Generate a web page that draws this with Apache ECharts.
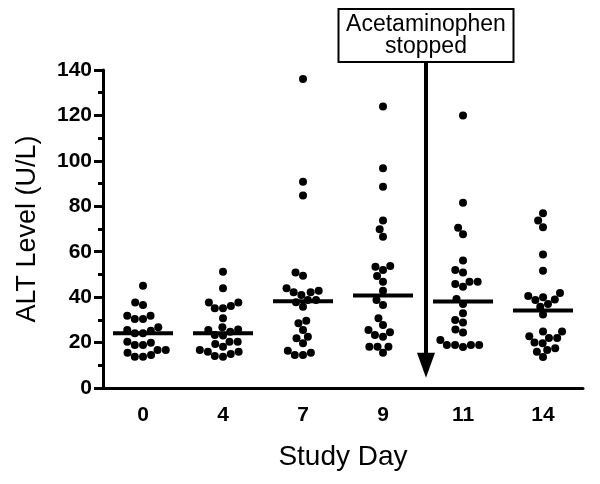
<!DOCTYPE html>
<html><head><meta charset="utf-8">
<script src="https://cdn.jsdelivr.net/npm/echarts@6/dist/echarts.min.js"></script>
<style>html,body{margin:0;background:#fff}#c{width:600px;height:484px}</style>
</head><body><div id="c"></div>
<script>
// ---- data ----
const studyDays = ['0', '4', '7', '9', '11', '14'];
const altDay0  = [45, 37.6, 36.5, 31.8, 31.8, 30.4, 30.4, 26.7, 25.5, 25.2, 24.1, 24.1, 20.4, 19.9, 18.9, 18.9, 16.7, 16.7, 15.5, 14.5, 13.8, 13.8];
const altDay4  = [51.2, 43.9, 37.6, 37.6, 36.1, 35.1, 35.1, 30.7, 26.7, 25.8, 25.5, 24.8, 23.3, 23.1, 20.4, 20.4, 19.4, 18.2, 16.7, 16, 16, 15, 14.1, 13.8];
const altDay7  = [136, 90.8, 84.7, 50.9, 49.4, 43.9, 42.8, 42.1, 42.1, 40.9, 38.7, 38.7, 37.7, 35.8, 29.6, 28.5, 25.5, 22.6, 21.9, 19.7, 16.4, 15.5, 14.5, 14.5];
const altDay9  = [123.9, 96.7, 88.6, 73.7, 69.9, 66.6, 53.7, 53.4, 52.0, 49.3, 46.8, 42.8, 38.7, 36.5, 30.7, 27.7, 25.5, 24.5, 23.3, 22.6, 18.2, 18.2, 18.2, 15.5];
const altDay11 = [120, 81.6, 70.6, 67.7, 56.1, 52.0, 50.8, 46.8, 46.8, 45.8, 44.6, 39.2, 37.0, 32.9, 29.9, 28.8, 25.8, 24.4, 21.1, 18.9, 18.9, 18.9, 18.9, 18.0];
const altDay14 = [76.9, 73.7, 70.8, 58.8, 51.6, 41.8, 40.5, 39.9, 39.0, 38.7, 37.0, 35.8, 32.4, 24.9, 24.9, 22.8, 22.0, 22.0, 20.0, 19.7, 17.5, 16.7, 16.0, 13.6];
const yMin = 0, yMax = 140, yInterval = 20;
const annotationLines = ['Acetaminophen', 'stopped'];
const arrowBetween = ['9', '11'];   // arrow drawn between these days
const arrowTipValue = 4.5;

// ---- chart ----
const groups = [altDay0, altDay4, altDay7, altDay9, altDay11, altDay14];
const FONT = '"Liberation Sans", Arial, Helvetica, sans-serif';
function median(a) {
  const s = a.slice().sort((x, y) => x - y), n = s.length;
  return n % 2 ? s[(n - 1) / 2] : (s[n / 2 - 1] + s[n / 2]) / 2;
}
const chart = echarts.init(document.getElementById('c'), null, { renderer: 'canvas' });

function dotData(offsets) {
  const out = [];
  groups.forEach((g, i) => g.forEach((v, k) => {
    out.push({ value: [i, v], symbolOffset: [offsets ? offsets[i][k] : 0, 0] });
  }));
  return out;
}

const option = {
  animation: false,
  backgroundColor: '#fff',
  grid: { left: 103, right: 17, top: 70, bottom: 96, containLabel: false },
  xAxis: {
    type: 'category', data: studyDays, boundaryGap: true,
    name: 'Study Day', nameLocation: 'middle', nameGap: 55,
    nameTextStyle: { fontFamily: FONT, fontSize: 28, color: '#000' },
    axisLine: { lineStyle: { color: '#000', width: 3 } },
    axisTick: { alignWithLabel: true, length: 9, lineStyle: { color: '#000', width: 3 } },
    axisLabel: { fontFamily: FONT, fontSize: 21, fontWeight: 'bold', color: '#000', margin: 17 },
    splitLine: { show: false }
  },
  yAxis: {
    type: 'value', min: yMin, max: yMax, interval: yInterval,
    name: 'ALT Level (U/L)', nameLocation: 'middle', nameGap: 62,
    nameTextStyle: { fontFamily: FONT, fontSize: 27, color: '#000' },
    axisLine: { show: true, lineStyle: { color: '#000', width: 3 } },
    axisTick: { show: true, length: 9, lineStyle: { color: '#000', width: 3 } },
    minorTick: { show: true, splitNumber: 2, length: 5, lineStyle: { color: '#000', width: 3 } },
    axisLabel: { fontFamily: FONT, fontSize: 21, fontWeight: 'bold', color: '#000', margin: 11 },
    splitLine: { show: false }, minorSplitLine: { show: false }
  },
  series: [
    { type: 'scatter', name: 'ALT', symbol: 'circle', symbolSize: 8,
      itemStyle: { color: '#000', opacity: 1 }, data: dotData(null), z: 3 },
    { type: 'scatter', name: 'Median', symbol: 'rect', symbolSize: [60, 4],
      itemStyle: { color: '#000', opacity: 1 },
      data: groups.map((g, i) => [i, median(g)]), z: 4 }
  ]
};
chart.setOption(option);

// beeswarm horizontal layout (pixel offsets) computed from values
const D = 8.2;
const offsets = groups.map((g, i) => {
  const order = g.map((v, k) => k).sort((a, b) => g[a] - g[b]);
  const placed = [], off = new Array(g.length).fill(0);
  for (const k of order) {
    const y = chart.convertToPixel({ yAxisIndex: 0 }, g[k]);
    const near = placed.filter(p => Math.abs(p.y - y) < D);
    const cands = [0];
    near.forEach(p => { const dx = Math.sqrt(D * D - (p.y - y) ** 2); cands.push(p.x + dx, p.x - dx); });
    cands.sort((a, b) => Math.abs(a) - Math.abs(b) || a - b);
    let x = 0;
    for (const c of cands) {
      if (near.every(p => (p.x - c) ** 2 + (p.y - y) ** 2 >= D * D - 0.01)) { x = c; break; }
    }
    placed.push({ x, y }); off[k] = x;
  }
  return off;
});

// annotation position
const xa = chart.convertToPixel({ xAxisIndex: 0 }, arrowBetween[0]);
const xb = chart.convertToPixel({ xAxisIndex: 0 }, arrowBetween[1]);
const ax = (xa + xb) / 2 + 3;
const tipY = chart.convertToPixel({ yAxisIndex: 0 }, arrowTipValue);
const boxW = 175, boxTop = 9, boxH = 53;

chart.setOption({
  series: [{ data: dotData(offsets) }, {}],
  graphic: [
    { type: 'line', shape: { x1: ax, y1: boxTop + boxH, x2: ax, y2: tipY - 20 },
      style: { stroke: '#000', lineWidth: 4 }, z: 10 },
    { type: 'polygon', shape: { points: [[ax - 9, tipY - 25], [ax + 9, tipY - 25], [ax, tipY]] },
      style: { fill: '#000' }, z: 10 },
    { type: 'rect', shape: { x: ax - boxW / 2, y: boxTop, width: boxW, height: boxH },
      style: { fill: '#fff', stroke: '#000', lineWidth: 2 }, z: 11 },
    { type: 'text', x: ax, y: boxTop + boxH / 2, z: 12,
      style: { text: annotationLines.join('\n'), fontFamily: FONT, fontSize: 23, lineHeight: 22,
               fill: '#000', align: 'center', verticalAlign: 'middle' } }
  ]
});
</script></body></html>
